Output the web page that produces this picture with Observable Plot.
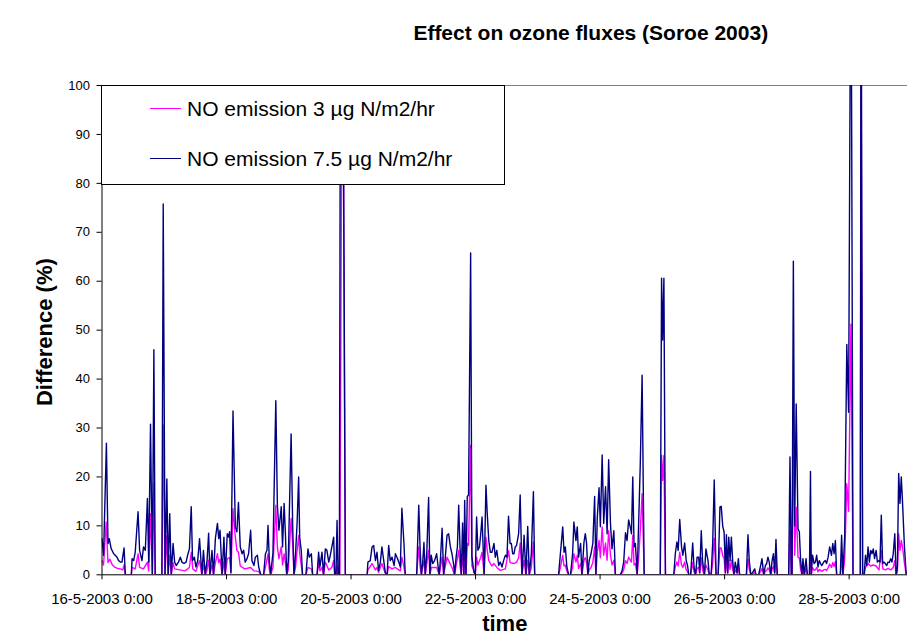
<!DOCTYPE html>
<html><head><meta charset="utf-8">
<script src="https://cdn.jsdelivr.net/npm/d3@7"></script>
<script src="https://cdn.jsdelivr.net/npm/@observablehq/plot@0.6"></script>
<style>
body{margin:0;background:#fff;}
#wrap{position:relative;width:907px;height:640px;overflow:hidden;background:#fff;font-family:"Liberation Sans",Arial,sans-serif;}
#wrap svg{position:absolute;left:0;top:0;}
#legend{position:absolute;left:101px;top:85px;width:404px;height:100px;box-sizing:border-box;border:1px solid #000;background:#fff;}
.lg-line{position:absolute;left:48px;width:31px;height:0;}
.lg-text{position:absolute;left:85px;font-size:21px;line-height:24px;white-space:nowrap;color:#000;}
</style></head><body><div id="wrap"></div>
<script>
const chartTitle = "Effect on ozone fluxes (Soroe 2003)";
const xTitle = "time";
const yTitle = "Difference (%)";
const seriesNames = ["NO emission 3 µg N/m2/hr", "NO emission 7.5 µg N/m2/hr"];
const seriesColors = ["#ff00ff", "#000080"];
const tickHours = [0, 48, 96, 144, 192, 240, 288];
const tickLabels = ["16-5-2003 0:00", "18-5-2003 0:00", "20-5-2003 0:00", "22-5-2003 0:00", "24-5-2003 0:00", "26-5-2003 0:00", "28-5-2003 0:00"];
const yTicks = [0, 10, 20, 30, 40, 50, 60, 70, 80, 90, 100];

// hours after 16-5-2003 0:00 and values (%) for NO emission 3 µg N/m2/hr
const pinkHours = [0,0.6,1.6,2.3,3.0,4.0,5.0,6.0,7.0,8.0,8.5,9,11.3,11.6,12.8,13.9,14.5,16.0,17.5,18.0,18.7,19.4,20.0,20.5,23.1,23.6,24.3,25.0,25.5,26.1,26.7,27.4,28.0,30.0,32.0,33.7,34.4,35.0,36.2,37.6,38.5,39.1,39.8,40.5,41.1,41.6,42.4,43.0,43.7,44.5,45.0,45.5,46.3,47.0,47.5,48.3,49.2,49.7,50.5,51.4,52.0,52.6,53.3,55.0,57.3,58.6,60.4,61.2,62.3,63.0,64.0,64.5,65.0,65.9,67.0,67.6,68.2,69.1,69.6,70.2,70.7,71.2,71.8,72.9,73.5,74.0,74.6,75.2,75.8,76.2,76.8,77.3,78.6,79.4,80.7,81.2,82.9,83.5,84.0,84.8,85.4,86.1,87.4,88.6,89.3,89.7,90.2,90.6,91.0,91.7,92.4,93.0,93.8,102.2,102.5,104.1,105.4,106.0,106.6,107.9,108.6,109.2,109.9,110.5,111.8,113.1,114.4,115.0,115.6,116.4,116.9,121.3,122.1,122.6,123.1,124.1,124.6,125.9,126.4,127.0,129.0,130.0,131.1,131.7,133.0,133.6,134.9,135.9,137.5,138.0,138.5,139.0,139.5,139.8,140.3,140.8,141.3,142.1,142.6,143.9,144.4,144.9,146.0,146.5,147.3,148.0,148.5,149.1,150.3,151.1,152.2,153.5,155.5,156.7,157.3,158.8,159.8,160.6,161.2,161.9,162.7,163.4,164.1,164.7,165.5,166.3,166.8,176.0,176.7,177.6,178.1,178.6,179.2,179.9,180.6,181.4,181.9,182.7,183.2,183.7,184.5,185.0,185.8,186.3,186.8,187.3,187.8,188.5,189.2,189.9,190.4,190.9,191.6,192.1,192.8,193.4,194.1,194.7,195.3,196.0,196.6,197.3,197.9,199.8,200.5,201.1,201.8,202.4,203.0,204.1,204.6,205.1,205.6,206.3,206.9,207.5,208.2,209.0,215.2,215.7,216.1,216.6,217.2,220.4,221.0,221.6,222.1,222.7,223.4,223.9,224.6,225.2,225.7,226.2,226.9,227.7,228.2,228.8,229.4,230.0,230.4,231.0,231.5,232.2,232.8,233.6,234.1,234.8,235.4,236.0,236.7,237.5,238.2,238.7,239.3,239.8,240.3,240.7,241.2,241.6,242.1,242.6,243.1,243.6,244.1,244.8,245.3,245.8,248.4,249.0,249.5,250.1,250.8,251.6,252.1,253.1,253.9,254.4,255.1,255.7,256.2,256.7,257.2,257.8,258.3,258.8,259.3,259.8,260.3,264.7,265.2,265.7,266.0,266.5,267.0,267.6,268.3,268.8,269.3,269.8,270.2,270.7,271.4,271.9,272.7,273.1,273.4,273.9,274.5,275.0,275.5,276.0,276.5,277.0,277.5,278.2,278.8,279.3,279.9,280.5,281.2,281.7,282.2,282.7,283.2,284.6,285.1,285.6,286.3,287.1,287.8,288.7,289.5,292.3,292.6,293.2,293.8,294.3,295.3,296.3,297.3,298.4,299.5,300.4,301.0,302.0,303.0,304.0,305.0,305.6,306.1,306.6,307.1,307.6,308.1,308.6,309.3,310.0,310.5];
const pinkValues = [2.9,2.0,10.8,2.5,3.2,2.0,1.5,1.3,1.2,1.0,2.0,0,0,1.5,1.2,4.3,1.5,1.2,2.6,0.8,12.5,0,18.7,0,0,30.6,0,8.0,0,4.0,0,2.5,1.2,1.0,0.8,1.5,4.6,1.2,0.7,2.9,0,2.0,0,1.0,3.0,0,2.0,0,2.5,4.3,2.5,3.2,0,2.6,0,3.3,3.5,0.3,13.5,7.7,5.0,4.6,1.8,1.2,1.5,0.8,0.7,0,0,1.5,4.3,1.0,0,1.5,14.2,5.7,3.3,5.7,2.0,4.3,2.5,0,1.0,11.5,6.4,0,1.5,5.0,8.0,4.3,2.0,0,0,1.5,1.2,0,0,2.6,0.8,1.5,0,2.6,1.0,1.5,2.9,0,0,1.9,0,0,92,92,0,0,1.0,2.3,1.0,1.5,0.5,2.3,1.2,0.3,0,1.7,1.2,1.5,1.0,0.8,3.6,1.5,0,0,5.7,1.8,0,2.9,0,5.0,0,1.5,1.5,0,3.6,0,3.6,2.9,1.5,0,5.0,1.8,0,4.3,0,5.5,0,6.4,6.0,26.5,1.8,0,3.6,2.0,3.6,4.6,0,7.7,5.0,2.9,1.8,2.3,1.5,0.9,1.2,5.0,2.5,2.3,2.6,3.5,6.5,0,3.0,0,3.0,0,1.5,6.7,0,0,1.5,4.0,1.8,2.0,0.7,0,0,1.5,4.3,2.6,4.0,1.3,2.3,0,3.0,3.5,2.5,0,1.0,1.5,2.5,5.7,0,4.5,7.0,3.5,9.8,4.0,6.5,3.0,9.0,4.0,2.0,3.0,0,0,0.4,1.0,2.9,2.3,3.6,2.6,8.1,2.0,2.3,0,3.6,9.0,16.6,0,0,24.4,19.3,24.4,0,0,1.6,2.6,1.8,4.6,2.0,1.5,2.6,1.0,0.7,0,0,2.5,0.6,0,1.3,1.5,0.3,3.5,1.0,0,2.0,1.0,0,0,2.5,7.5,0,0,5.5,5.5,3.8,3.4,0.2,3.2,0.2,3.0,1.1,3.0,1.1,0,1.0,0.2,1.3,0,0,3.2,1.1,0,0.2,0.5,0,0,0.7,1.3,0,0.7,0.9,1.4,1.0,0,1.1,1.7,0.2,2.8,0,0,9.0,0,0,33.0,4.0,13.8,3.6,3.4,1.1,0,1.3,0,1.3,0,0,8.2,0,1.5,0.9,1.0,1.5,0.6,1.1,0.9,0.7,1.0,1.1,0.9,1.4,2.2,1.5,2.5,1.7,2.7,0,0,3.2,0,3.2,18.6,13.0,51.2,0,0,110,0,0,1.5,2.3,1.8,2.0,1.8,1.0,5.0,1.2,1.0,1.3,1.0,1.5,2.9,0,0.6,8.4,5.0,7.0,5.6,2.5,0,0];

// hours after 16-5-2003 0:00 and values (%) for NO emission 7.5 µg N/m2/hr
const blueHours = [0,0.6,1.7,2.3,2.8,3.5,4.5,5.1,5.8,6.4,7.1,7.7,8.5,9,11.3,11.6,12.2,12.8,13.9,14.5,15.4,16.0,16.7,17.5,18.0,18.7,19.4,20.0,20.5,23.1,23.6,24.3,25.0,25.5,26.1,26.7,27.4,28.0,28.6,29.5,30.2,30.8,31.6,32.4,33.0,33.7,34.4,34.9,35.6,36.2,36.9,37.6,38.5,39.1,39.8,40.5,41.1,41.6,42.4,43.0,43.7,44.5,45.0,45.5,46.3,47.0,47.5,48.3,48.8,49.2,49.7,50.5,51.4,52.0,52.6,53.3,54.0,54.6,55.2,55.9,56.5,57.3,57.8,58.6,59.1,59.9,60.4,61.2,62.3,63.0,63.6,64.0,64.5,65.0,65.9,67.0,67.6,68.2,69.1,69.6,70.2,70.7,71.2,71.8,72.9,73.5,74.0,74.6,75.2,75.8,76.2,76.8,77.3,78.6,79.4,79.9,80.7,81.2,82.9,83.5,84.0,84.8,85.4,86.1,86.7,87.4,88.0,88.6,89.3,89.7,90.2,90.6,91.0,91.5,92.0,92.7,93.8,102.2,102.5,103.4,104.1,104.7,105.4,106.0,106.6,107.3,107.9,108.6,109.2,109.9,110.5,111.1,111.8,112.6,113.1,113.7,114.4,115.0,115.6,116.4,116.9,121.3,122.1,122.6,123.1,123.6,124.1,124.6,125.2,125.9,126.4,126.9,127.5,128.2,129.0,129.5,130.0,130.5,131.1,131.7,132.3,133.0,133.6,134.3,134.9,135.6,135.9,136.5,137.0,137.5,138.0,138.5,139.0,139.5,139.8,140.3,140.8,141.3,142.1,142.6,143.4,143.9,144.4,144.9,145.5,146.0,146.5,147.3,148.0,148.5,149.1,149.7,150.3,151.1,151.6,152.2,152.9,153.5,154.2,154.8,155.5,156.1,156.7,157.3,157.8,158.3,158.8,159.3,159.8,160.6,161.2,161.9,162.7,163.4,164.1,164.7,165.5,166.3,166.8,176.0,176.7,177.6,178.1,178.6,179.2,179.9,180.6,181.4,181.9,182.7,183.2,183.7,184.5,185.0,185.8,186.3,186.8,187.3,187.8,188.5,189.2,189.9,190.4,190.9,191.6,192.1,192.8,193.4,194.1,194.7,195.3,196.0,196.6,197.3,197.9,199.8,200.5,201.1,201.8,202.4,203.0,203.6,204.1,204.6,205.1,205.6,206.3,206.9,207.5,208.2,209.0,215.2,215.7,216.1,216.6,217.2,220.4,221.0,221.6,222.1,222.7,223.4,223.9,224.6,225.2,225.7,226.2,226.9,227.7,228.2,228.8,229.4,230.0,230.4,231.0,231.5,232.2,232.8,233.6,234.1,234.8,235.4,236.0,236.7,237.5,238.2,238.7,239.3,239.8,240.3,240.7,241.2,241.6,242.1,242.6,243.1,243.6,244.1,244.8,245.3,245.8,248.4,249.0,249.5,250.1,250.8,251.6,252.1,253.1,253.9,254.4,255.1,255.7,256.2,256.7,257.2,257.8,258.3,258.8,259.3,259.8,260.3,264.7,265.2,265.7,266.0,266.5,267.0,267.6,268.3,268.8,269.3,269.8,270.2,270.7,271.4,271.9,272.7,273.1,273.4,273.9,274.5,275.0,275.5,276.0,276.5,277.0,277.5,278.2,278.8,279.3,279.9,280.5,281.2,281.7,282.2,282.7,283.2,284.6,285.1,285.6,286.3,287.1,287.8,288.7,289.5,292.3,292.6,293.2,293.8,294.3,294.8,295.3,295.8,296.3,296.8,297.3,297.8,298.4,298.9,299.5,299.9,300.4,300.9,301.4,301.9,302.5,303.0,303.5,304.0,304.5,305.0,305.6,306.1,306.6,307.1,307.6,308.1,308.6,309.3,310.0,310.5];
const blueValues = [7.4,4.0,26.9,6.4,7.4,5.4,4.3,4.0,3.6,2.9,2.6,2.6,5.5,0,0,3.3,2.9,4.6,12.9,5.0,2.9,5.7,5.0,15.6,2.6,30.8,0,46,0,0,75.8,0,19.6,0,12.5,0,6.4,2.6,1.9,2.6,3.6,2.6,2.3,2.6,4.0,5.3,13.9,2.9,3.6,1.6,2.9,7.4,0,5.0,0,2.9,8.5,0,5.0,0,7.4,10.5,7.4,9.1,0,7.7,0,8.4,7.7,8.8,0.5,33.5,9.8,8.8,14.8,5.7,4.3,5.0,2.6,3.3,4.3,9.1,2.9,1.9,3.6,4.0,1.6,0,0,4.3,5.0,10.1,2.9,0,4.5,35.6,14.2,9.1,13.9,5.7,14.6,8.4,0,2.9,28.8,10.1,0,4.3,10.5,20.0,7.7,5.0,0,0,5.3,3.6,4.3,0,0,4.6,1.6,4.6,0,5.3,5.0,2.6,4.0,5.7,7.7,0,0,11.1,0,0,140,140,0,0,2.6,2.9,5.7,6.0,2.9,4.6,0.9,2.6,5.7,2.9,0.5,0,6.0,2.9,3.6,1.9,4.3,3.6,2.6,1.6,13.6,6.4,0,0,14.2,5.7,0,2.3,6.6,0,4.6,15.8,0,4.0,2.3,2.9,4.3,1.9,0,3.6,9.5,0,3.3,8.1,8.4,5.7,4.3,1.9,0,3.6,5.7,14.2,5.7,0,10.6,0,15.2,0,16.0,16.3,65.8,3.6,0.5,0,11.8,5.0,5.7,8.4,11.8,0,18.3,12.5,7.0,4.6,4.6,6.4,3.6,5.0,1.9,2.6,1.6,2.9,4.0,3.6,12.0,6.4,6.4,4.3,4.3,5.7,6.0,8.4,16.3,0,8.1,0,9.9,0,4.3,17.0,0,0,4.3,9.8,4.6,5.7,1.6,0,0,4.3,10.8,7.0,9.8,3.6,6.4,0,6.7,8.4,6.4,0,2.9,4.3,6.4,16.0,0,11.5,17.8,9.8,24.5,10.5,18.0,8.4,23.5,10.5,5.3,9.0,0,0,0.9,2.6,8.6,7.0,11.2,9.8,8.4,20.0,5.7,6.4,0,11.2,22.8,40.8,0,0,60.6,48,60.6,0,0,4.3,6.7,5.0,11.3,5.7,4.0,6.5,2.9,1.9,0,0,6.5,1.6,0,3.6,3.6,0.5,9.0,2.9,0,5.3,2.9,0,0,6.4,19.4,0,0,13.9,14.0,9.8,8.8,0.5,8.2,0.5,7.7,2.9,7.7,2.9,0,2.6,0.5,3.3,0,0,8.2,2.9,0,0.5,1.2,0,0,1.9,3.3,0,1.9,2.3,3.6,2.6,0,2.9,4.3,0.5,7.2,0,0,24.1,0,0,64.1,10,34.9,9.4,8.8,2.9,0,3.3,0,3.3,0,0,21.1,0,4.0,2.3,2.6,4.0,1.6,2.9,2.3,1.9,2.6,2.9,2.3,3.6,5.7,4.0,6.4,4.3,7.0,0,0,8.1,0,8.1,47.1,33.2,140,0,0,140,0,0,4.0,1.9,5.7,2.6,5.0,4.3,5.3,3.3,5.0,2.6,2.9,2.6,12.2,2.3,2.6,2.3,1.9,2.6,2.5,3.3,2.6,4.3,8.4,0,1.6,20.7,14.6,20.0,14.6,6.0,0,0];

const rows = [
  ...pinkHours.map((h, i) => ({h, v: pinkValues[i], s: seriesNames[0]})),
  ...blueHours.map((h, i) => ({h, v: blueValues[i], s: seriesNames[1]}))
];

const font = "Liberation Sans, Arial, sans-serif";
const chart = Plot.plot({
  width: 907, height: 640,
  marginLeft: 101.5, marginRight: 0, marginTop: 85, marginBottom: 65.7,
  style: {fontFamily: font, background: "#fff", color: "#000", overflow: "visible"},
  x: {type: "linear", domain: [0, 310.5]},
  y: {domain: [0, 100]},
  color: {domain: seriesNames, range: seriesColors},
  marks: [
    Plot.ruleY([100], {stroke: "#808080", strokeWidth: 1}),
    Plot.line(rows.filter(d => d.s === seriesNames[0]), {x: "h", y: "v", stroke: "s", strokeWidth: 1.4, clip: true}),
    Plot.line(rows.filter(d => d.s === seriesNames[1]), {x: "h", y: "v", stroke: "s", strokeWidth: 1.4, clip: true}),
    Plot.ruleY([0], {stroke: "#000"}),
    Plot.ruleX([0], {stroke: "#000"}),
    Plot.axisY({ticks: yTicks, tickSize: 5, tickPadding: 7, fontSize: 13, label: null, stroke: "#000"}),
    Plot.axisX({ticks: tickHours, tickFormat: d => tickLabels[tickHours.indexOf(d)], tickSize: 5, tickPadding: 14, fontSize: 15, label: null}),
    Plot.text([yTitle], {text: d => d, frameAnchor: "left", textAnchor: "middle", lineAnchor: "middle", rotate: -90, dx: -57.5, dy: 2, fontSize: 22, fontWeight: "bold"}),
    Plot.text([xTitle], {text: d => d, frameAnchor: "bottom", textAnchor: "middle", lineAnchor: "middle", dy: 49, fontSize: 22, fontWeight: "bold"}),
    Plot.text([chartTitle], {text: d => d, frameAnchor: "top", textAnchor: "middle", lineAnchor: "middle", dx: 86, dy: -52, fontSize: 21, fontWeight: "bold"})
  ]
});
const wrap = document.getElementById("wrap");
wrap.appendChild(chart);

const legend = document.createElement("div");
legend.id = "legend";
seriesNames.forEach((name, i) => {
  const top = 23 + i * 50;
  const line = document.createElement("div");
  line.className = "lg-line";
  line.style.top = (top - 0.75) + "px";
  line.style.borderTop = "1.5px solid " + seriesColors[i];
  const txt = document.createElement("div");
  txt.className = "lg-text";
  txt.style.top = (top - 12) + "px";
  txt.textContent = name;
  legend.appendChild(line);
  legend.appendChild(txt);
});
wrap.appendChild(legend);
</script>
</body></html>
